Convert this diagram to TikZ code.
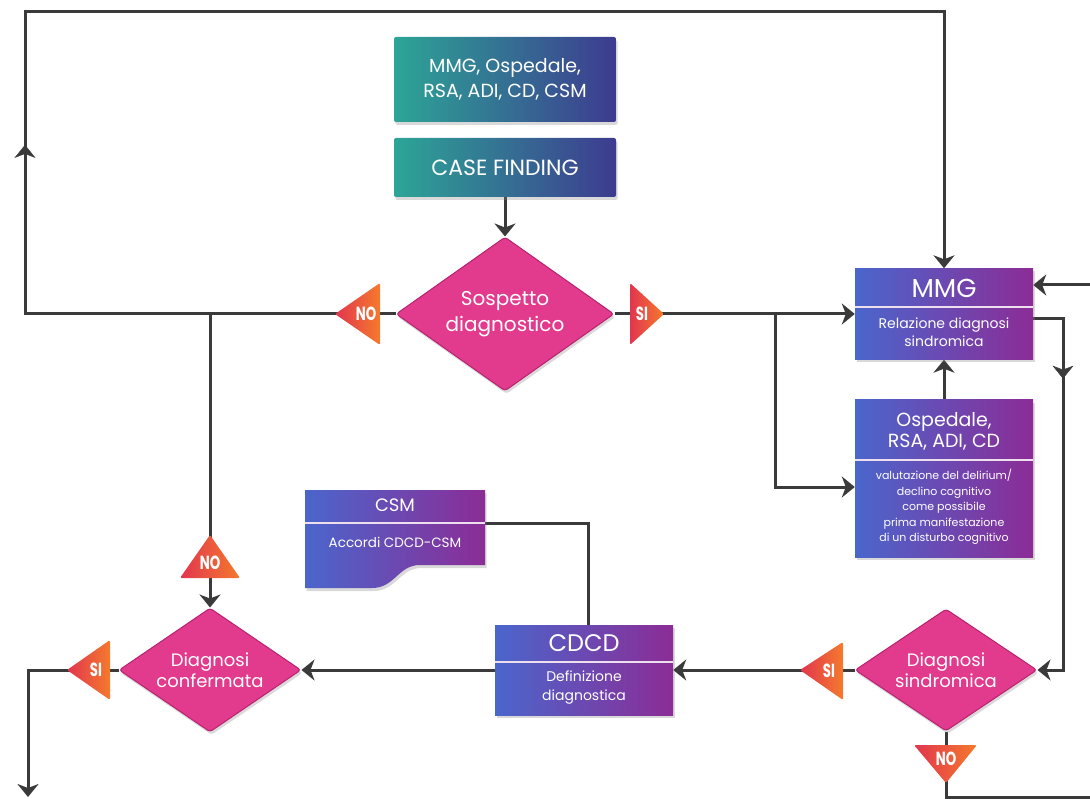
\documentclass[tikz,border=0pt]{standalone}
\usepackage{fontspec}
\setmainfont{Poppins}
\usetikzlibrary{shapes.geometric,arrows.meta,shadows,decorations.markings}
\pgfdeclarelayer{bg}
\pgfsetlayers{bg,main}
\definecolor{tealL}{HTML}{2CA596}
\definecolor{indR}{HTML}{3D3B90}
\definecolor{bluL}{HTML}{4A66CC}
\definecolor{purR}{HTML}{8C2C96}
\definecolor{mag}{HTML}{E23A8D}
\definecolor{magD}{HTML}{B8226E}
\definecolor{triO}{HTML}{F47A2C}
\definecolor{triR}{HTML}{E2354F}
\definecolor{ln}{HTML}{3A3A3A}
\tikzset{
 shd/.style={drop shadow={opacity=0.3,shadow xshift=1.5pt,shadow yshift=-3pt}},
 tealbox/.style={rectangle, rounded corners=2pt, left color=tealL, right color=indR, shd, inner sep=0pt},
 purbox/.style={rectangle, left color=bluL, right color=purR, shd, inner sep=0pt},
 dia/.style={diamond, fill=mag, draw=magD, line width=1pt, rounded corners=3pt, shd, inner sep=0pt},
 tri/.style={left color=triR, right color=triO, draw=none, rounded corners=1.5pt},
 trilbl/.style={text=white, font=\bfseries\fontsize{19}{19}\selectfont, inner sep=0pt},
 conn/.style={draw=ln, line width=3pt},
 arr/.style={conn, -{Stealth[length=13pt,width=21pt,inset=4pt]}},
 wtxt/.style={text=white, align=center, inner sep=0pt},
 divl/.style={draw=white!85!purR, line width=1.2pt},
 midarrow/.style={decoration={markings, mark=at position #1 with {\arrow[ln]{Stealth[length=13pt,width=21pt,inset=4pt]}}}, postaction={decorate}},
}
\begin{document}
\begin{tikzpicture}[x=1pt,y=-1pt]
\useasboundingbox (0,0) rectangle (1090,799);

% top boxes
\node[tealbox, minimum width=222pt, minimum height=85pt] (src) at (505,79.5) {};
\node[wtxt, font=\fontsize{19}{25}\selectfont] (srcT) at (src) {MMG, Ospedale,\\RSA, ADI, CD, CSM};
\node[tealbox, minimum width=222pt, minimum height=59pt] (cf) at (505,167.5) {};
\node[wtxt, font=\fontsize{22}{24}\selectfont] (cfT) at (cf) {CASE FINDING};

% diamonds
\node[dia, minimum width=218pt, minimum height=154pt] (sosp) at (505,314) {};
\node[wtxt, font=\fontsize{20}{26}\selectfont] (sospT) at (sosp) {Sospetto\\diagnostico};
\node[dia, minimum width=182pt, minimum height=124pt] (dconf) at (210,670) {};
\node[wtxt, font=\fontsize{18}{21}\selectfont] (dconfT) at (dconf) {Diagnosi\\confermata};
\node[dia, minimum width=182pt, minimum height=122pt] (dsin) at (946,670) {};
\node[wtxt, font=\fontsize{18}{21}\selectfont] (dsinT) at (dsin) {Diagnosi\\sindromica};

% MMG box
\node[purbox, minimum width=178pt, minimum height=91pt] (mmg) at (944,314) {};
\draw[divl] (855,307) -- (1033,307);
\node[wtxt, font=\fontsize{26}{28}\selectfont] (mmgH) at (944,288) {MMG};
\node[wtxt, font=\fontsize{14}{18}\selectfont] (mmgB) at (944,332) {Relazione diagnosi\\sindromica};

% Ospedale box
\node[purbox, minimum width=178pt, minimum height=157pt] (osp) at (944,478.5) {};
\draw[divl] (855,460) -- (1033,460);
\node[wtxt, font=\fontsize{19}{21}\selectfont] (ospH) at (944,431) {Ospedale,\\RSA, ADI, CD};
\node[wtxt, font=\fontsize{11}{15.5}\selectfont] (ospB) at (944,507) {valutazione del delirium/\\declino cognitivo\\come possibile\\prima manifestazione\\di un disturbo cognitivo};

% CDCD box
\node[purbox, minimum width=178pt, minimum height=90pt] (cdcd) at (584,670) {};
\draw[divl] (495,662) -- (673,662);
\node[wtxt, font=\fontsize{24}{26}\selectfont] (cdcdH) at (584,643) {CDCD};
\node[wtxt, font=\fontsize{14}{19}\selectfont] (cdcdB) at (584,688) {Definizione\\diagnostica};

% CSM shape
\path[left color=bluL, right color=purR, shd] (305,490) -- (485,490) -- (485,565) -- (420,565) .. controls (398,565) and (395,588) .. (372,588) -- (305,588) -- cycle;
\draw[divl] (305,523) -- (485,523);
\coordinate (csmR) at (485,523);
\node[wtxt, font=\fontsize{18}{20}\selectfont] (csmH) at (395,505) {CSM};
\node[wtxt, font=\fontsize{13.5}{15}\selectfont] (csmB) at (395,542) {Accordi CDCD-CSM};

% coordinates
\coordinate (loopA) at (25,314);
\coordinate (loopB) at (25,12);
\coordinate (loopC) at (944,12);
\coordinate (brA) at (210,314);
\coordinate (brB) at (775,314);
\coordinate (brC) at (775,487);
\coordinate (rin) at (1090,285);
\coordinate (r1) at (1063,319);
\coordinate (r2) at (1063,670);
\coordinate (nsA) at (946,797);
\coordinate (nsB) at (1090,797);
\coordinate (outA) at (28,670);
\coordinate (outB) at (28,797);
\coordinate (csmA) at (588,523);

\begin{pgfonlayer}{bg}
\draw[arr] (cf.south) -- (sosp.north);
\draw[arr] (sosp.west) -- (loopA) -- (loopB) -- (loopC) -- (mmg.north);
\path[midarrow=0.56] (loopA) -- (loopB);
\draw[arr] (brA) -- (dconf.north);
\draw[arr] (sosp.east) -- (mmg.west);
\draw[arr] (brB) -- (brC) -- (brC -| osp.west);
\draw[arr] (osp.north) -- (mmg.south);
\draw[arr] (rin) -- (rin -| mmg.east);
\draw[arr] (r1 -| mmg.east) -- (r1) -- (r2) -- (dsin.east);
\path[midarrow=0.17] (r1) -- (r2);
\draw[conn] (dsin.south) -- (nsA) -- (nsB);
\draw[arr] (dsin.west) -- (cdcd.east);
\draw[arr] (cdcd.west) -- (dconf.east);
\draw[arr] (dconf.west) -- (outA) -- (outB);
\draw[conn] (csmR) -- (csmA) -- (csmA |- cdcd.north);
\end{pgfonlayer}

% triangles
\path[tri] (335,314) -- (380,283) -- (380,345) -- cycle;
\node[trilbl] (noS) at (366,314) {\scalebox{0.7}[1]{NO}};
\path[tri] (664,314) -- (630,283) -- (630,345) -- cycle;
\node[trilbl] (siS) at (642,314) {\scalebox{0.7}[1]{SI}};
\path[tri] (210,535) -- (180,578) -- (240,578) -- cycle;
\node[trilbl] (noC) at (210,563) {\scalebox{0.7}[1]{NO}};
\path[tri] (67,670) -- (110,640) -- (110,700) -- cycle;
\node[trilbl] (siC) at (96,670) {\scalebox{0.7}[1]{SI}};
\path[tri] (800,670) -- (843,642) -- (843,700) -- cycle;
\node[trilbl] (siD) at (829,671) {\scalebox{0.7}[1]{SI}};
\path[tri] (946,783) -- (914,745) -- (977,745) -- cycle;
\node[trilbl] (noD) at (946,759) {\scalebox{0.7}[1]{NO}};
\end{tikzpicture}
\end{document}
